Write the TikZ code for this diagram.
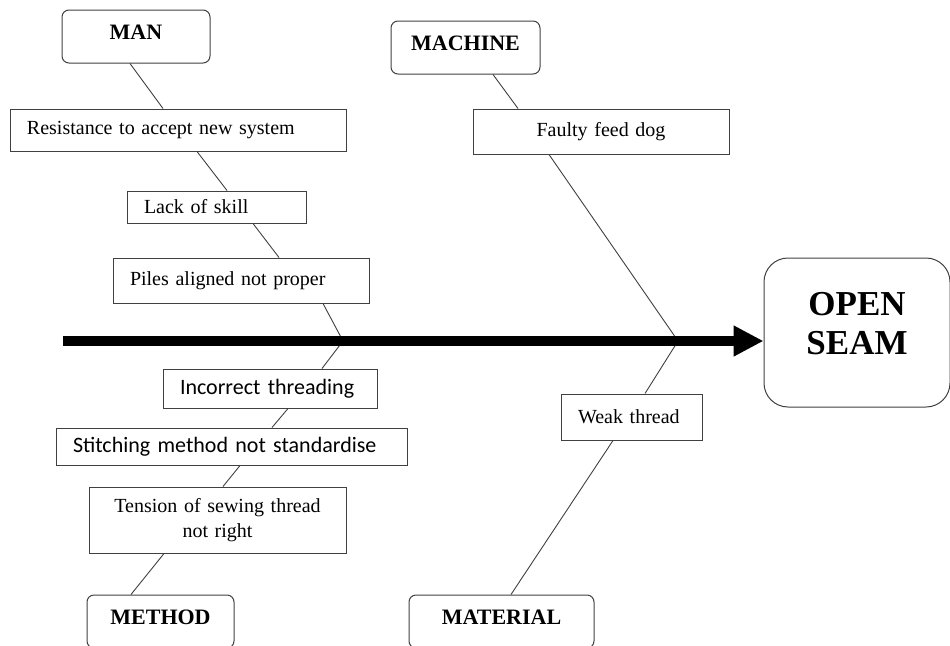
\documentclass[tikz,border=0pt]{standalone}
\usepackage{fontspec}
\setmainfont{Liberation Serif}
\newfontfamily\calibrifont{Carlito}
\usetikzlibrary{arrows.meta}
\definecolor{boxline}{RGB}{64, 64, 64}

\tikzset{
  category/.style={draw=boxline, line width=1pt, rounded corners=7pt, minimum height=53pt,
                   text depth=8pt, font=\fontsize{22}{26}\selectfont\bfseries},
  cause/.style={draw=boxline, line width=1pt, fill=white, inner xsep=17pt, inner ysep=0pt,
                align=left, font=\fontsize{20}{24}\selectfont},
  bone/.style={boxline, line width=0.9pt},
  spine/.style={line width=10pt, -{Triangle[length=30pt, width=29pt]}},
}

\begin{document}
\begin{tikzpicture}[x=1pt, y=-1pt]
            \useasboundingbox (0,0) rectangle (950,645);
            \clip (0,0) rectangle (950,645);
            % Effect
            \node[draw=boxline, line width=1pt, rounded corners=24pt, minimum width=186pt, minimum height=149pt,
                  align=center, text depth=19pt, font=\fontsize{35}{39}\selectfont\bfseries]
                 (seam) at (857,332.5) {OPEN\\SEAM};
            % Categories
            \node[category, minimum width=148pt] (man)      at (136,36.5)  {MAN};
            \node[category, minimum width=149pt] (machine)  at (465.5,47.5) {MACHINE};
            \node[category, minimum width=147pt] (method)   at (160.5,621.5) {METHOD};
            \node[category, minimum width=185pt] (material) at (501.5,621.5) {MATERIAL};
            % Causes
            \node[cause, minimum height=42pt, text width=302pt] (resist)  at (178,130)   {Resistance to accept new system};
            \node[cause, minimum height=32pt, text width=145pt] (skill)   at (216.5,207) {Lack of skill};
            \node[cause, minimum height=45pt, text width=222pt] (piles)   at (241,280.5) {Piles aligned not proper};
            \node[cause, minimum height=39pt, text width=180pt, font=\calibrifont\fontsize{22}{26}\selectfont]
                 (thread) at (270,388.5) {Incorrect threading};
            \node[cause, minimum height=37pt, text width=317pt, font=\calibrifont\fontsize{22}{26}\selectfont]
                 (stitch) at (231.5,446.5) {Stitching method not standardise};
            \node[cause, minimum height=66pt, text width=223pt, align=center, font=\fontsize{20}{25}\selectfont]
                 (tension) at (217.5,520) {Tension of sewing thread\\not right};
            \node[cause, minimum height=45pt, text width=222pt, align=center] (feeddog) at (601,131.5) {Faulty feed dog};
            \node[cause, minimum height=46pt, text width=107pt] (weak)    at (631.5,417) {Weak thread};
            % Spine
            \coordinate (tail) at (63,341);
            \coordinate (j1)   at (343,341);
            \coordinate (j2)   at (678,341);
            % MAN branch
            \draw[bone] (man.south -| 130,0)    -- (resist.north -| 163,0);
            \draw[bone] (resist.south -| 197,0) -- (skill.north -| 227,0);
            \draw[bone] (skill.south -| 253,0)  -- (piles.north -| 279,0);
            \draw[bone] (piles.south -| 323,0)  -- (j1);
            % METHOD branch
            \draw[bone] (j1)                     -- (thread.north -| 322,0);
            \draw[bone] (thread.south -| 288,0)  -- (stitch.north -| 272,0);
            \draw[bone] (stitch.south -| 240,0)  -- (tension.north -| 223,0);
            \draw[bone] (tension.south -| 164,0) -- (method.north -| 131,0);
            % MACHINE branch
            \draw[bone] (machine.south -| 493,0) -- (feeddog.north -| 518,0);
            \draw[bone] (feeddog.south -| 549,0) -- (j2);
            % MATERIAL branch
            \draw[bone] (j2)                     -- (weak.north -| 645,0);
            \draw[bone] (weak.south -| 613,0)    -- (material.north -| 511,0);
            % Main arrow
            \draw[spine] (tail) -- (tail -| seam.west);
\end{tikzpicture}
\end{document}
